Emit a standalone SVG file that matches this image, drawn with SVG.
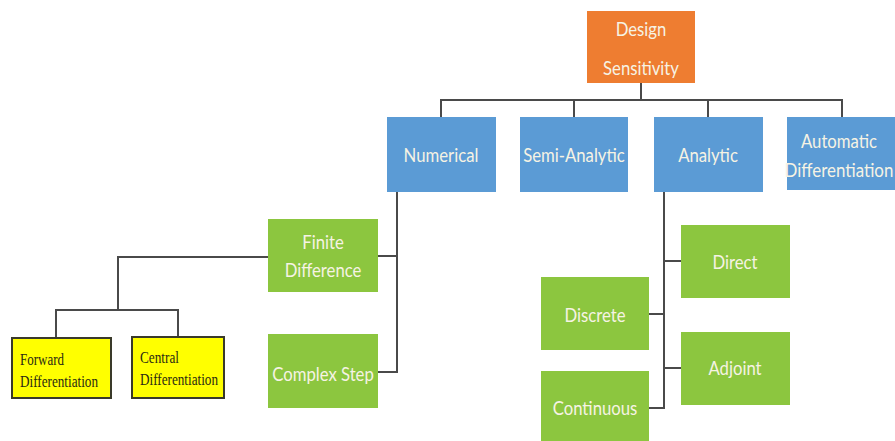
<svg xmlns="http://www.w3.org/2000/svg" width="895" height="441" viewBox="0 0 895 441">
  <style>
    .box { stroke: none; }
    .root { fill: #EE7D31; }
    .blue { fill: #5B9BD5; }
    .green { fill: #8CC63F; }
    .yellow { fill: #FFFF00; stroke: #3a3a2a; stroke-width: 2; }
    .lbl { font-family: Lato, "Open Sans", "Liberation Sans", sans-serif; font-size: 19px; fill: #F6F3E4; text-anchor: middle; }
    .serif { font-family: "Liberation Serif", "Times New Roman", serif; font-size: 17px; fill: #2a2a14; }
    .wire { fill: none; stroke: #4a4a4a; stroke-width: 2; }
  </style>

  <rect width="895" height="441" fill="#FFFFFF"/>

  <!-- connectors -->
  <g id="connectors">
    <path class="wire" d="M641 83 V100 M441 117 V100 H842 V117 M574 100 V117 M708 100 V117"/>
    <path class="wire" d="M397 192 V372 H378 M378 256 H397"/>
    <path class="wire" d="M268 257 H118 V310 M56 338 V310 H178 V337"/>
    <path class="wire" d="M664 192 V408 H649 M649 314 H664 M664 261 H681 M664 368 H681"/>
  </g>

  <!-- labels are set in a narrow face: each is squeezed horizontally about its anchor -->
  <g id="design-sensitivity">
    <rect class="box root" x="587" y="11" width="108" height="72"/>
    <text class="lbl" transform="translate(641 36) scale(0.88 1)">Design</text>
    <text class="lbl" transform="translate(641 75) scale(0.88 1)">Sensitivity</text>
  </g>

  <g id="numerical">
    <rect class="box blue" x="387" y="117" width="109" height="75"/>
    <text class="lbl" transform="translate(441 162) scale(0.88 1)">Numerical</text>
  </g>
  <g id="semi-analytic">
    <rect class="box blue" x="520" y="117" width="108" height="75"/>
    <text class="lbl" transform="translate(574 162) scale(0.88 1)">Semi-Analytic</text>
  </g>
  <g id="analytic">
    <rect class="box blue" x="654" y="117" width="109" height="75"/>
    <text class="lbl" transform="translate(708 162) scale(0.88 1)">Analytic</text>
  </g>
  <g id="automatic-differentiation">
    <rect class="box blue" x="787" y="117" width="110" height="73"/>
    <text class="lbl" transform="translate(839 148) scale(0.88 1)">Automatic</text>
    <text class="lbl" transform="translate(839 177) scale(0.89 1)">Differentiation</text>
  </g>

  <g id="finite-difference">
    <rect class="box green" x="268" y="219" width="110" height="73"/>
    <text class="lbl" transform="translate(323 249) scale(0.88 1)">Finite</text>
    <text class="lbl" transform="translate(323 277) scale(0.88 1)">Difference</text>
  </g>
  <g id="complex-step">
    <rect class="box green" x="268" y="334" width="110" height="74"/>
    <text class="lbl" transform="translate(323 381) scale(0.88 1)">Complex Step</text>
  </g>

  <g id="forward-differentiation">
    <rect class="yellow" x="12" y="338" width="99" height="60"/>
    <text class="serif" x="20" y="365" textLength="44" lengthAdjust="spacingAndGlyphs">Forward</text>
    <text class="serif" x="20" y="387" textLength="78" lengthAdjust="spacingAndGlyphs">Differentiation</text>
  </g>
  <g id="central-differentiation">
    <rect class="yellow" x="132" y="337" width="92" height="61"/>
    <text class="serif" x="140" y="363" textLength="39" lengthAdjust="spacingAndGlyphs">Central</text>
    <text class="serif" x="140" y="385" textLength="78" lengthAdjust="spacingAndGlyphs">Differentiation</text>
  </g>

  <g id="direct">
    <rect class="box green" x="681" y="225" width="109" height="73"/>
    <text class="lbl" transform="translate(735 269) scale(0.88 1)">Direct</text>
  </g>
  <g id="adjoint">
    <rect class="box green" x="681" y="332" width="109" height="73"/>
    <text class="lbl" transform="translate(735 375) scale(0.88 1)">Adjoint</text>
  </g>
  <g id="discrete">
    <rect class="box green" x="541" y="277" width="108" height="73"/>
    <text class="lbl" transform="translate(595 322) scale(0.88 1)">Discrete</text>
  </g>
  <g id="continuous">
    <rect class="box green" x="541" y="371" width="108" height="72"/>
    <text class="lbl" transform="translate(595 415) scale(0.88 1)">Continuous</text>
  </g>
</svg>
